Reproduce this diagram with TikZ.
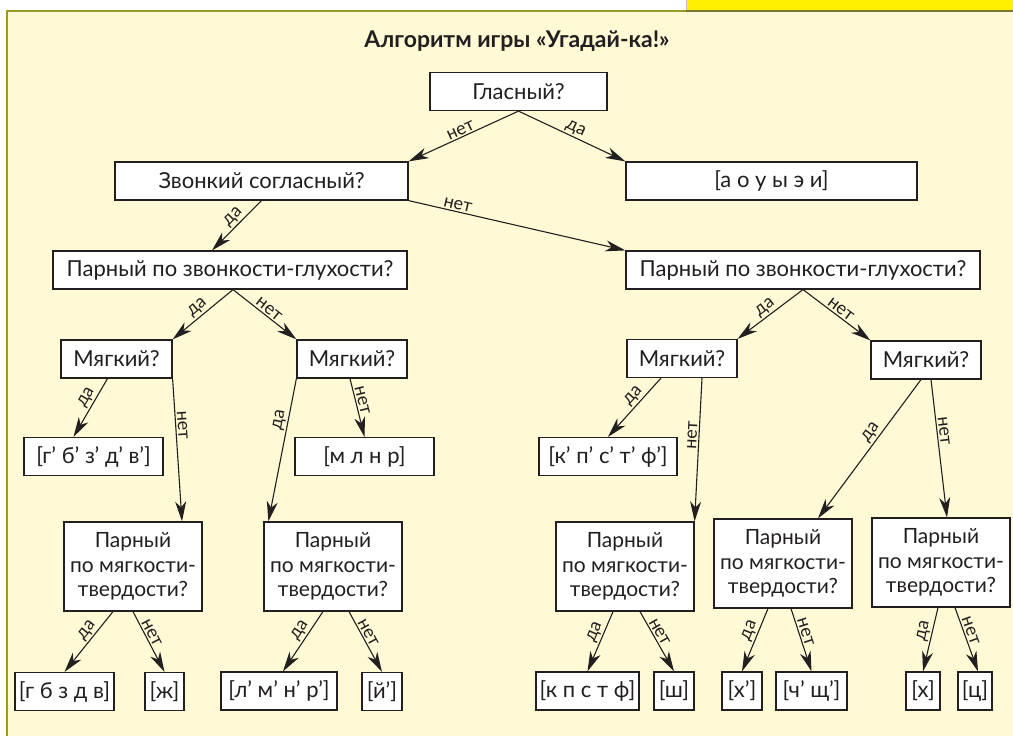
\documentclass[tikz,border=0pt]{standalone}
\usepackage{fontspec}
\setmainfont{Lato}
\usepackage{tikz}
\usetikzlibrary{arrows.meta}
\definecolor{panelfill}{HTML}{FFF9D5}
\definecolor{panelline}{HTML}{9A9A2A}
\definecolor{tabyellow}{HTML}{FFF000}
\definecolor{tabline}{HTML}{77772F}
\definecolor{ink}{HTML}{231F20}
\tikzset{%
  qbox/.style={draw=ink,fill=white,line width=1.2pt,minimum height=38pt,inner sep=1pt,text=ink,font=\fontsize{22}{25}\selectfont},
  pbox/.style={qbox,minimum width=138pt,minimum height=89pt,align=center,font=\fontsize{21}{24.5}\selectfont},
  darr/.style={draw=ink,line width=1.1pt,-{Stealth[length=20pt,width=11pt,inset=6pt]}},
  ans/.style={font=\fontsize{18}{20}\selectfont,text=ink,sloped,above,inner sep=1.5pt,pos=0.45}
}

\begin{document}
\begin{tikzpicture}[x=1pt,y=-1pt]
  \useasboundingbox (0,0) rectangle (1013,736);
  % panel and tab
  \fill[panelfill] (6.5,10.5) rectangle (1013,736);
  \draw[panelline,line width=2pt] (6.5,736) -- (6.5,10.5) -- (686,10.5);
  \fill[tabyellow] (686,0) rectangle (1013,9.5);
  \draw[black!25,line width=0.8pt] (686,0) -- (686,10);
  \draw[tabline,line width=2pt] (686,10.5) -- (1013,10.5);

  \node (title) at (517,41) [text=ink,font=\fontsize{23}{26}\selectfont\bfseries]{Алгоритм игры «Угадай-ка!»};

  \path
    (518.5,91.5) node (glas)[qbox,minimum width=177pt]{Гласный?}
    (261.5,181)  node (zvon)[qbox,minimum width=293pt]{Звонкий согласный?}
    (771.5,181)  node (vow)[qbox,minimum width=291pt]{[а о у ы э и]}
    (230,270)    node (parL)[qbox,minimum width=354pt]{Парный по звонкости-глухости?}
    (803,270)    node (parR)[qbox,minimum width=354pt]{Парный по звонкости-глухости?}
    (116.5,359)  node (mLL)[qbox,minimum width=111pt]{Мягкий?}
    (352,359)    node (mLR)[qbox,minimum width=110pt]{Мягкий?}
    (682,358.5)  node (mRL)[qbox,minimum width=110pt]{Мягкий?}
    (926,360)    node (mRR)[qbox,minimum width=110pt]{Мягкий?}
    (93.5,456.5) node (softL)[qbox,minimum width=139pt]{[г’ б’ з’ д’ в’]}
    (364.5,456.5) node (mlnr)[qbox,minimum width=139pt]{[м л н р]}
    (608,456.5)  node (softR)[qbox,minimum width=138pt]{[к’ п’ с’ т’ ф’]}
    (133,566.5)  node (pmLL)[pbox]{Парный\\по мягкости-\\твердости?}
    (333,566.5)  node (pmLR)[pbox]{Парный\\по мягкости-\\твердости?}
    (625,566.5)  node (pmRL)[pbox]{Парный\\по мягкости-\\твердости?}
    (783,563.5)  node (pmRM)[pbox]{Парный\\по мягкости-\\твердости?}
    (941,562.5)  node (pmRR)[pbox]{Парный\\по мягкости-\\твердости?}
    (64.5,691.5) node (gbzdv)[qbox,minimum width=99pt]{[г б з д в]}
    (164.5,691.5) node (zh)[qbox,minimum width=39pt]{[ж]}
    (279,691)    node (lmnr)[qbox,minimum width=116pt]{[л’ м’ н’ р’]}
    (382,691.5)  node (jj)[qbox,minimum width=40pt]{[й’]}
    (587.5,691)  node (kpstf)[qbox,minimum width=103pt]{[к п с т ф]}
    (674,691)    node (sh)[qbox,minimum width=40pt]{[ш]}
    (742,691)    node (khs)[qbox,minimum width=40pt]{[х’]}
    (811.5,691)  node (chsh)[qbox,minimum width=71pt]{[ч’ щ’]}
    (923,691)    node (kh)[qbox,minimum width=34pt]{[х]}
    (975,691)    node (ts)[qbox,minimum width=34pt]{[ц]};

  % upper levels
  \draw[darr] (glas.south) -- node[ans,pos=0.5]{нет} (zvon.north east);
  \draw[darr] (glas.south) -- node[ans,pos=0.5]{да} (vow.north west);
  \draw[darr] (zvon.south) -- node[ans]{да} ([xshift=-18pt]parL.north);
  \draw[darr] (zvon.south east) -- node[ans,pos=0.22]{нет} (parR.north west);
  \draw[darr] ([xshift=3pt]parL.south) -- node[ans,pos=0.5]{да} (mLL.north east);
  \draw[darr] ([xshift=3pt]parL.south) -- node[ans,pos=0.5]{нет} (mLR.north west);
  \draw[darr] (parR.south) -- node[ans,pos=0.5]{да} (mRL.north east);
  \draw[darr] (parR.south) -- node[ans,pos=0.5]{нет} (mRR.north west);

  % soft?
  \draw[darr] ([xshift=-9pt]mLL.south) -- node[ans,pos=0.4]{да} ([xshift=-20pt]softL.north);
  \draw[darr] (mLL.south east) -- node[ans,pos=0.33]{нет} ([xshift=49pt]pmLL.north);
  \draw[darr] (mLR.south west) -- node[ans,pos=0.3]{да} ([xshift=5pt]pmLR.north west);
  \draw[darr] ([xshift=-2pt]mLR.south) -- node[ans,pos=0.4]{нет} (mlnr.north);
  \draw[darr] ([xshift=-21pt]mRL.south) -- node[ans,pos=0.4]{да} (softR.north);
  \draw[darr] ([xshift=20pt]mRL.south) -- node[ans,pos=0.4]{нет} (pmRL.north east);
  \draw[darr] ([xshift=-5pt]mRR.south) -- node[ans,pos=0.42]{да} ([xshift=35pt]pmRM.north);
  \draw[darr] ([xshift=5pt]mRR.south) -- node[ans,pos=0.38]{нет} ([xshift=6pt]pmRR.north);

  % leaves
  \draw[darr] ([xshift=-20pt]pmLL.south) -- node[ans,pos=0.4]{да} (gbzdv.north);
  \draw[darr] (pmLL.south) -- node[ans,pos=0.4]{нет} (zh.north);
  \draw[darr] ([xshift=-10pt]pmLR.south) -- node[ans,pos=0.4]{да} ([xshift=4pt]lmnr.north);
  \draw[darr] ([xshift=16pt]pmLR.south) -- node[ans,pos=0.4]{нет} (jj.north);
  \draw[darr] ([xshift=-12pt]pmRL.south) -- node[ans,pos=0.4]{да} (kpstf.north);
  \draw[darr] ([xshift=15pt]pmRL.south) -- node[ans,pos=0.4]{нет} (sh.north);
  \draw[darr] ([xshift=-15pt]pmRM.south) -- node[ans,pos=0.4]{да} (khs.north);
  \draw[darr] ([xshift=8pt]pmRM.south) -- node[ans,pos=0.4]{нет} (chsh.north);
  \draw[darr] ([xshift=-3pt]pmRR.south) -- node[ans,pos=0.4]{да} (kh.north);
  \draw[darr] ([xshift=14pt]pmRR.south) -- node[ans,pos=0.4]{нет} ([xshift=3pt]ts.north);
\end{tikzpicture}
\end{document}
